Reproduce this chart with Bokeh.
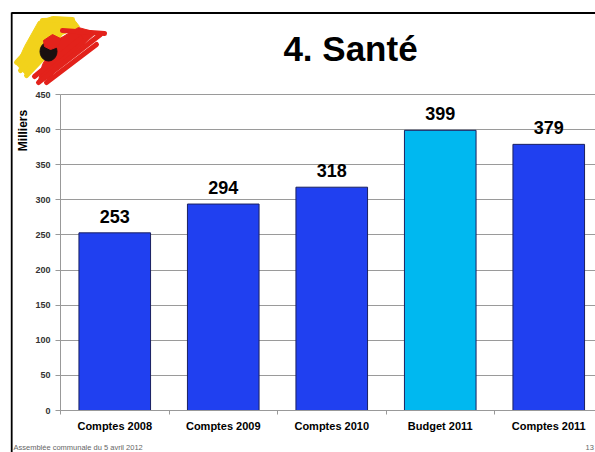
import math
from bokeh.plotting import figure
from bokeh.models import ColumnDataSource, Range1d, FixedTicker, LabelSet
from bokeh.core.properties import value
from bokeh.embed import file_html
from bokeh.resources import INLINE

# ---- data ----
categories = ["Comptes 2008", "Comptes 2009", "Comptes 2010", "Budget 2011", "Comptes 2011"]
values = [253, 294, 318, 399, 379]
colors = ["#2040F0", "#2040F0", "#2040F0", "#00B8F0", "#2040F0"]
y_ticks = [0, 50, 100, 150, 200, 250, 300, 350, 400, 450]

title_text = "4. Santé"
y_title = "Milliers"
footer_text = "Assemblée communale du 5 avril 2012"
page_no = "13"

FONT = "Liberation Sans"
W, H = 595, 452

# plot frame placement on the page (pixels)
FL, FR, FT, FB = 60, 595, 94, 410
Y_MAX = 450
CAT_W = 108.5                      # pixels per category
PPY = (FB - FT) / Y_MAX            # pixels per unit

x_start = -FL / CAT_W
x_end = (W - FL) / CAT_W
y_start = (FB - H) / PPY
y_end = FB / PPY


def dx(px):
    return (px - FL) / CAT_W


def dy(py):
    return (FB - py) / PPY


xs = [i + 0.5 for i in range(len(categories))]
src = ColumnDataSource(dict(x=xs, top=values, color=colors,
                            label=[str(v) for v in values]))

p = figure(width=W, height=H, output_backend="svg", toolbar_location=None,
           x_range=Range1d(x_start, x_end), y_range=Range1d(y_start, y_end),
           min_border=0)
p.outline_line_color = None
p.border_fill_color = "white"
p.background_fill_color = "white"

# grid lines (horizontal, only across the chart area)
p.xgrid.grid_line_color = None
p.ygrid.ticker = FixedTicker(ticks=y_ticks)
p.ygrid.grid_line_color = "#9a9a9a"
p.ygrid.cross_bounds = (0, x_end)

# bars
p.vbar(x="x", top="top", width=0.66, bottom=0, fill_color="color",
       line_color="#1a2060", line_width=1, source=src)

p.add_layout(LabelSet(x="x", y="top", text="label", source=src,
                      text_align="center", text_baseline="bottom", y_offset=10,
                      text_font=value(FONT), text_font_style="bold",
                      text_font_size="18px", text_color="black"))

# axes fixed at the chart origin
p.yaxis.fixed_location = 0
p.yaxis.bounds = (0, Y_MAX)
p.yaxis.ticker = FixedTicker(ticks=y_ticks)
p.yaxis.axis_line_color = "#999999"
p.yaxis.major_tick_line_color = "#999999"
p.yaxis.major_tick_out = 5
p.yaxis.major_tick_in = 0
p.yaxis.minor_tick_line_color = None
p.yaxis.major_label_text_font = FONT
p.yaxis.major_label_text_font_style = "bold"
p.yaxis.major_label_text_font_size = "9px"
p.yaxis.major_label_text_color = "#333333"
p.yaxis.major_label_standoff = 5

p.xaxis.fixed_location = 0
p.xaxis.bounds = (0, x_end)
p.xaxis.ticker = FixedTicker(ticks=xs, minor_ticks=list(range(len(categories) + 1)))
p.xaxis.major_label_overrides = {x: c for x, c in zip(xs, categories)}
p.xaxis.axis_line_color = "#999999"
p.xaxis.major_tick_line_color = None
p.xaxis.minor_tick_line_color = "#999999"
p.xaxis.minor_tick_out = 4
p.xaxis.minor_tick_in = 0
p.xaxis.major_label_text_font = FONT
p.xaxis.major_label_text_font_style = "bold"
p.xaxis.major_label_text_font_size = "11px"
p.xaxis.major_label_text_color = "black"
p.xaxis.major_label_standoff = 3

# ---- slide decorations (page-pixel positions converted to plot space) ----
p.line([dx(11), dx(W + 2)], [dy(12.5), dy(12.5)], line_color="black", line_width=2)
p.line([dx(11.2), dx(11.2)], [dy(12), dy(H + 2)], line_color="black", line_width=1.8)

# logo (approximation of the coloured brush-stroke emblem)
def patch(pts, color):
    p.patch([dx(a) for a, b in pts], [dy(b) for a, b in pts], color=color)


def strokes(lines, color, w):
    p.multi_line([[dx(a) for a, b in ln] for ln in lines],
                 [[dy(b) for a, b in ln] for ln in lines],
                 line_color=color, line_width=w, line_cap="round")


patch([(38, 21), (52, 16), (72, 17), (79, 26), (62, 34), (42, 60), (26, 75), (16, 64), (24, 46)], "#F2D21B")
strokes([[(16, 62), (40, 36)], [(20, 70), (44, 42)], [(26, 75), (48, 52)], [(42, 20), (72, 19)]], "#F2D21B", 5)
patch([(56, 40), (78, 27), (96, 32), (70, 56), (48, 78), (38, 80), (42, 64)], "#E3221B")
strokes([[(38, 82), (100, 34)], [(46, 82), (96, 44)], [(34, 76), (80, 38)], [(62, 30), (104, 33)]], "#E3221B", 5)
t = [k / 20 * 2 * math.pi for k in range(20)]
patch([(48 + 8.5 * math.cos(a), 51 + 9.5 * math.sin(a)) for a in t], "#1a1010")
patch([(43, 40), (52, 34), (60, 38), (58, 46), (50, 49), (44, 46)], "#E3221B")

p.text(x=[dx(350)], y=[dy(48)], text=[title_text], text_font=value(FONT),
       text_font_style="bold", text_font_size="35px", text_align="center",
       text_baseline="middle", text_color="black")
p.text(x=[dx(22)], y=[dy(130)], text=[y_title], angle=math.pi / 2, text_font=value(FONT),
       text_font_style="bold", text_font_size="12px", text_align="center",
       text_baseline="middle", text_color="black")
p.text(x=[dx(13)], y=[dy(447)], text=[footer_text], text_font=value(FONT),
       text_font_size="7.5px", text_baseline="middle", text_color="#666666")
p.text(x=[dx(585)], y=[dy(447)], text=[page_no], text_font=value(FONT),
       text_font_size="7.5px", text_baseline="middle", text_color="#666666")

open("out.html", "w").write(file_html(p, INLINE))
